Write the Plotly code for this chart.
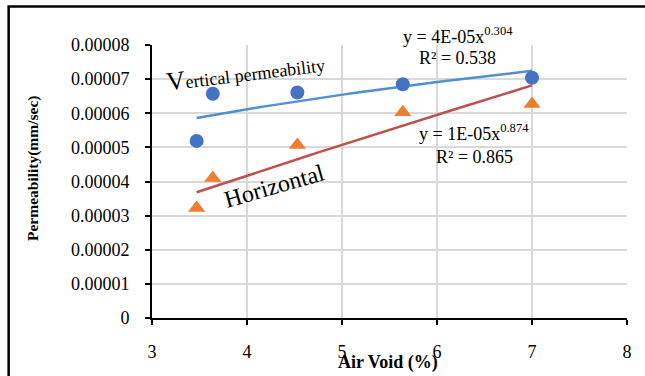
import numpy as np
import plotly.graph_objects as go

# ---- data ----
air_void = [3.47, 3.64, 4.53, 5.64, 7.0]
vertical_perm = [5.19e-5, 6.57e-5, 6.61e-5, 6.85e-5, 7.04e-5]
horizontal_perm = [3.22e-5, 4.10e-5, 5.07e-5, 6.03e-5, 6.27e-5]

x_ticks = [3, 4, 5, 6, 7, 8]
y_tickvals = [0, 1e-5, 2e-5, 3e-5, 4e-5, 5e-5, 6e-5, 7e-5, 8e-5]
y_ticktext = ["0", "0.00001", "0.00002", "0.00003", "0.00004",
              "0.00005", "0.00006", "0.00007", "0.00008"]

eq_vertical = ["y = 4E-05x<sup>0.304</sup>", "R² = 0.538"]
eq_horizontal = ["y = 1E-05x<sup>0.874</sup>", "R² = 0.865"]


def power_fit(x, y):
    lx, ly = np.log(x), np.log(y)
    b, ln_a = np.polyfit(lx, ly, 1)
    xs = np.linspace(min(x), max(x), 60)
    return xs, np.exp(ln_a) * xs ** b


FONT = "Liberation Serif, Times New Roman, serif"
BLUE = "#4472C4"
ORANGE = "#ED7D31"
BLACK = "black"

fig = go.Figure()

xs_v, ys_v = power_fit(air_void, vertical_perm)
xs_h, ys_h = power_fit(air_void, horizontal_perm)

fig.add_trace(go.Scatter(x=xs_v, y=ys_v, mode="lines",
                         line=dict(color="#4F8FD3", width=2.5),
                         hoverinfo="skip", showlegend=False))
fig.add_trace(go.Scatter(x=xs_h, y=ys_h, mode="lines",
                         line=dict(color="#C0504D", width=2.5),
                         hoverinfo="skip", showlegend=False))
fig.add_trace(go.Scatter(x=air_void, y=vertical_perm, mode="markers",
                         marker=dict(symbol="circle", size=14, color=BLUE),
                         name="Vertical", showlegend=False))
fig.add_trace(go.Scatter(x=air_void, y=horizontal_perm, mode="markers",
                         marker=dict(symbol="triangle-up", size=15, color=ORANGE),
                         name="Horizontal", showlegend=False))


def ann(x, y, text, size, data=False, angle=0):
    ref_x, ref_y = ("x", "y") if data else ("paper", "paper")
    return dict(x=x, y=y, xref=ref_x, yref=ref_y, text=text, textangle=angle,
                xanchor="center", yanchor="middle", showarrow=False,
                font=dict(family=FONT, size=size, color=BLACK))


annotations = [
    ann(3.98, 7.18e-5,
        '<span style="font-size:26px">V</span>ertical permeability',
        18, data=True, angle=-7),
    ann(4.29, 3.86e-5, "Horizontal", 24, data=True, angle=-16),
    ann(0.6432, 1.0366, eq_vertical[0], 18),
    ann(0.6432, 0.9524, eq_vertical[1], 18),
    ann(0.6780, 0.6777, eq_horizontal[0], 18),
    ann(0.6780, 0.5897, eq_horizontal[1], 18),
    ann(-0.2505, 0.5458, "<b>Permeability(mm/sec)</b>", 15.5, angle=-90),
    ann(0.4958, -0.163, "<b>Air Void (%)</b>", 18),
]

fig.update_layout(
    width=645, height=376,
    margin=dict(l=152, r=18, t=45, b=58),
    paper_bgcolor="white", plot_bgcolor="white",
    font=dict(family=FONT, size=18, color=BLACK),
    annotations=annotations,
    shapes=[dict(type="rect", xref="paper", yref="paper",
                 x0=-0.3018, x1=1.15, y0=-0.35, y1=1.1410,
                 line=dict(color=BLACK, width=2.5), layer="above")],
)

fig.update_xaxes(range=[3, 8], tickvals=x_ticks, ticktext=[str(v) for v in x_ticks],
                 showgrid=True, gridcolor="#d9d9d9", gridwidth=1.5,
                 showline=True, linecolor=BLACK, linewidth=2,
                 ticks="outside", ticklen=5, tickwidth=2, tickcolor=BLACK,
                 zeroline=False, ticklabelstandoff=11, automargin=False,
                 tickfont=dict(family=FONT, size=18, color=BLACK))
fig.update_yaxes(range=[0, 8e-5], tickvals=y_tickvals, ticktext=y_ticktext,
                 showgrid=True, gridcolor="#d9d9d9", gridwidth=1.5,
                 showline=True, linecolor=BLACK, linewidth=2,
                 ticks="outside", ticklen=5, tickwidth=2, tickcolor=BLACK,
                 zeroline=False, ticklabelstandoff=12, automargin=False,
                 tickfont=dict(family=FONT, size=18, color=BLACK))

# remove the browser's default 8px body margin so the figure fills the window
fig.write_html(
    "out.html",
    config={"displayModeBar": False},
    post_script="document.body.style.margin='0';"
                "document.body.style.overflow='hidden';",
)
